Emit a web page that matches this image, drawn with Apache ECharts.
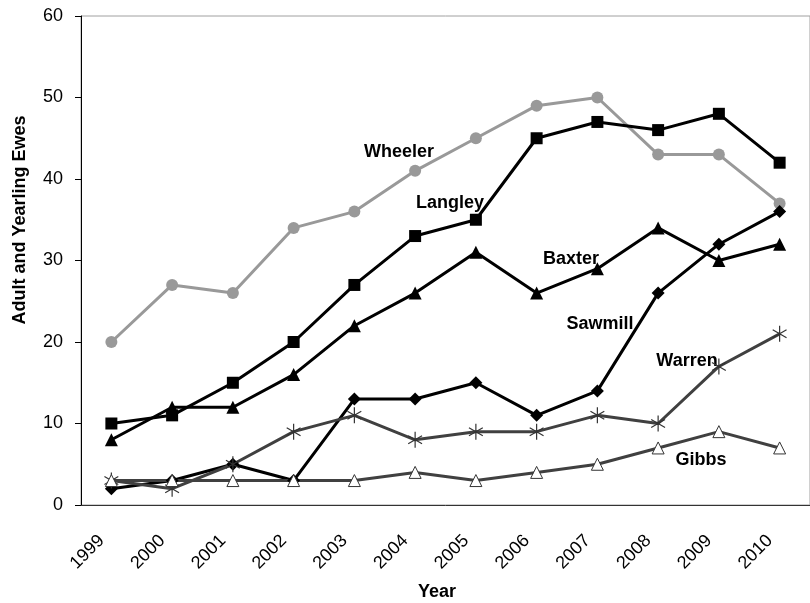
<!DOCTYPE html>
<html>
<head>
<meta charset="utf-8">
<script src="https://cdn.jsdelivr.net/npm/echarts@6/dist/echarts.min.js"></script>
<style>
  html, body { margin: 0; padding: 0; background: #fff; }
  #chart { width: 810px; height: 603px; }
</style>
</head>
<body>
<!-- ewes by herd, 1999-2010 -->
<div id="chart"></div>
<script>
const years = ['1999', '2000', '2001', '2002', '2003', '2004', '2005', '2006', '2007', '2008', '2009', '2010']
const wheeler = [20, 27, 26, 34, 36, 41, 45, 49, 50, 43, 43, 37]
const langley = [10, 11, 15, 20, 27, 33, 35, 45, 47, 46, 48, 42]
const baxter = [8, 12, 12, 16, 22, 26, 31, 26, 29, 34, 30, 32]
const sawmill = [2, 3, 5, 3, 13, 13, 15, 11, 14, 26, 32, 36]
const warren = [3, 2, 5, 9, 11, 8, 9, 9, 11, 10, 17, 21]
const gibbs = [3, 3, 3, 3, 3, 4, 3, 4, 5, 7, 9, 7]

const font = 'Arial, "Liberation Sans", sans-serif'
const star = 'path://M0,-10L0,10M-8.66,-5L8.66,5M-8.66,5L8.66,-5'

const myChart = echarts.init(document.getElementById('chart'))

const label = (text, x, y) => ({
  type: 'text',
  x: x,
  y: y,
  style: {
    text: text,
    font: 'bold 18px ' + font,
    fill: '#000',
    align: 'center',
    verticalAlign: 'middle',
  },
})

myChart.setOption({
  animation: false,
  grid: {
    left: 81,
    top: 16,
    width: 734,
    height: 489,
    show: true,
    borderColor: '#a0a0a0',
    borderWidth: 1,
  },
  xAxis: {
    type: 'category',
    data: years,
    boundaryGap: true,
    axisLine: { lineStyle: { color: '#333', width: 1 } },
    axisTick: { length: 6, lineStyle: { color: '#333' } },
    axisLabel: {
      rotate: 45,
      margin: 23,
      padding: [0, 14, 0, 0],
      color: '#000',
      fontSize: 18,
      fontFamily: font,
    },
  },
  yAxis: {
    type: 'value',
    min: 0,
    max: 60,
    interval: 10,
    splitLine: { show: false },
    axisLine: { show: true, lineStyle: { color: '#000', width: 1 } },
    axisTick: { show: true, length: 6, lineStyle: { color: '#000' } },
    axisLabel: {
      margin: 18,
      color: '#000',
      fontSize: 18,
      fontFamily: font,
    },
  },
  graphic: [
    {
      type: 'text',
      x: 20,
      y: 220,
      rotation: Math.PI / 2,
      style: {
        text: 'Adult and Yearling Ewes',
        font: 'bold 18px ' + font,
        fill: '#000',
        align: 'center',
        verticalAlign: 'middle',
      },
    },
    label('Year', 437, 592),
    label('Wheeler', 399, 152),
    label('Langley', 450, 203),
    label('Baxter', 571, 259),
    label('Sawmill', 600, 324),
    label('Warren', 687, 361),
    label('Gibbs', 701, 460),
  ],
  series: [
    {
      name: 'Wheeler',
      type: 'line',
      data: wheeler,
      symbol: 'circle',
      symbolSize: 12,
      lineStyle: { color: '#999', width: 3 },
      itemStyle: { color: '#999' },
    },
    {
      name: 'Langley',
      type: 'line',
      data: langley,
      symbol: 'rect',
      symbolSize: 12,
      lineStyle: { color: '#000', width: 3 },
      itemStyle: { color: '#000' },
    },
    {
      name: 'Baxter',
      type: 'line',
      data: baxter,
      symbol: 'triangle',
      symbolSize: 13,
      lineStyle: { color: '#000', width: 3 },
      itemStyle: { color: '#000' },
    },
    {
      name: 'Sawmill',
      type: 'line',
      data: sawmill,
      symbol: 'diamond',
      symbolSize: 13,
      lineStyle: { color: '#000', width: 3 },
      itemStyle: { color: '#000' },
    },
    {
      name: 'Warren',
      type: 'line',
      data: warren,
      symbol: star,
      symbolSize: 16,
      symbolKeepAspect: true,
      lineStyle: { color: '#404040', width: 3 },
      itemStyle: { color: 'none', borderColor: '#333', borderWidth: 1.2 },
    },
    {
      name: 'Gibbs',
      type: 'line',
      data: gibbs,
      symbol: 'triangle',
      symbolSize: 12,
      lineStyle: { color: '#404040', width: 3 },
      itemStyle: { color: '#fff', borderColor: '#333', borderWidth: 1 },
    },
  ],
})
</script>
</body>
</html>
